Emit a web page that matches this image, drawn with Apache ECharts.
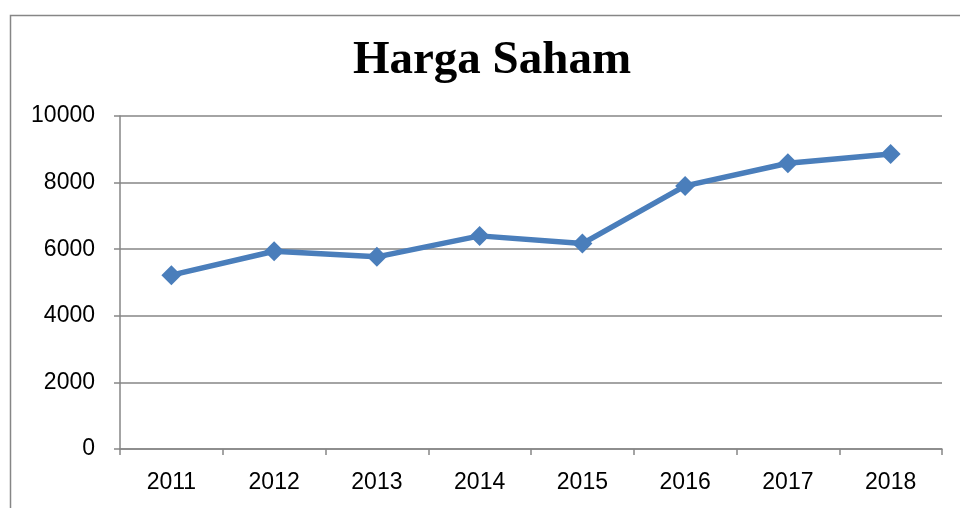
<!DOCTYPE html>
<html>
<head>
<meta charset="utf-8">
<script src="https://cdn.jsdelivr.net/npm/echarts@6/dist/echarts.min.js"></script>
<style>
  html, body { margin: 0; padding: 0; background: #fff; }
  #chart { width: 960px; height: 508px; }
</style>
</head>
<body>
<div id="chart"></div>
<script>
// data
var years = ['2011', '2012', '2013', '2014', '2015', '2016', '2017', '2018'];
var harga = [5220, 5940, 5770, 6400, 6170, 7900, 8580, 8860];

var chart = echarts.init(document.getElementById('chart'));
chart.setOption({
  animation: false,
  title: {
    text: 'Harga Saham',
    left: 487,
    textAlign: 'center',
    top: 32,
    textStyle: { fontFamily: 'Liberation Serif', fontWeight: 'bold', fontSize: 47, color: '#000' }
  },
  // outer chart border
  graphic: [{
    type: 'rect',
    shape: { x: 10.5, y: 15.5, width: 960, height: 520 },
    style: { fill: 'none', stroke: '#868686', lineWidth: 1.5 }
  }],
  grid: { left: 120, right: 18, top: 116, bottom: 59 },
  xAxis: {
    type: 'category',
    data: years,
    boundaryGap: true,
    axisLine: { lineStyle: { color: '#868686', width: 1.5 } },
    axisTick: { show: true, length: 6, interval: 0, lineStyle: { color: '#868686', width: 1.5 } },
    axisLabel: { color: '#000', fontSize: 23, fontFamily: 'Liberation Sans', margin: 22 }
  },
  yAxis: {
    type: 'value',
    min: 0,
    max: 10000,
    interval: 2000,
    axisLine: { show: true, lineStyle: { color: '#868686', width: 1.5 } },
    axisTick: { show: true, length: 6, lineStyle: { color: '#868686', width: 1.5 } },
    splitLine: { lineStyle: { color: '#868686', width: 1.5 } },
    axisLabel: {
      color: '#000', fontSize: 23, fontFamily: 'Liberation Sans', margin: 25,
      formatter: function (v) { return String(v); }
    }
  },
  series: [{
    type: 'line',
    data: harga,
    symbol: 'diamond',
    symbolSize: 20,
    lineStyle: { color: '#4a7ebb', width: 5.5 },
    itemStyle: { color: '#4a7ebb' }
  }]
});
</script>
</body>
</html>
